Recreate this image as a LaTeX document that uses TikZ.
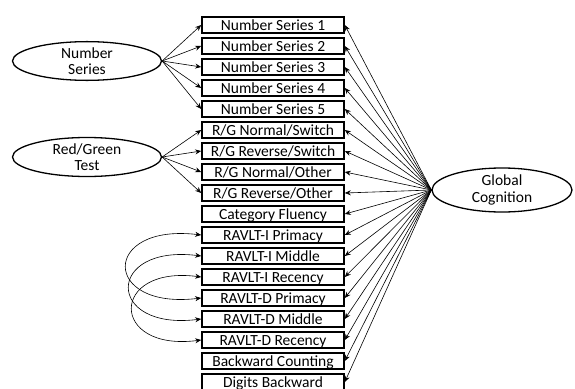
\documentclass[tikz,border=0pt]{standalone}
\usepackage{fontspec}
\setmainfont{Carlito}
\usetikzlibrary{arrows.meta,shapes.geometric}
\begin{document}
\begin{tikzpicture}[x=1pt,y=-1pt,
  box/.style={draw,line width=1.6pt,minimum width=142pt,minimum height=16pt,inner sep=0pt,
    text height=13pt,text depth=1.5pt,font=\fontsize{15.5}{16.5}\selectfont},
  lat/.style={draw,ellipse,line width=1.3pt,inner sep=0pt,align=center,
    font=\fontsize{15.5}{16.5}\selectfont},
  arr/.style={line width=0.6pt,-{Stealth[length=6pt,width=5pt,inset=2pt]}},
  darr/.style={line width=0.6pt,{Stealth[length=6pt,width=5pt,inset=2pt]}-{Stealth[length=6pt,width=5pt,inset=2pt]}}]
\useasboundingbox (0,0) rectangle (575,388);
\foreach \t [count=\i] in {Number Series 1,Number Series 2,Number Series 3,Number Series 4,Number Series 5,R/G Normal/Switch,R/G Reverse/Switch,R/G Normal/Other,R/G Reverse/Other,Category Fluency,RAVLT-I Primacy,RAVLT-I Middle,RAVLT-I Recency,RAVLT-D Primacy,RAVLT-D Middle,RAVLT-D Recency,Backward Counting,Digits Backward}
  \node[box] (b\i) at (273,{25+21*(\i-1)}) {\t};
\node[lat,minimum width=149pt,minimum height=38pt] (ns) at (87,61) {Number\\Series};
\node[lat,minimum width=149pt,minimum height=39pt] (rg) at (87,157) {Red/Green\\Test};
\node[lat,minimum width=140pt,minimum height=44pt] (gc) at (502,190) {Global\\Cognition};
\foreach \i in {1,...,5} \draw[arr] (ns.east) -- (b\i.west);
\foreach \i in {6,...,9} \draw[arr] (rg.east) -- (b\i.west);
\foreach \i in {1,...,18} \draw[arr] (gc.west) -- (b\i.east);
\draw[darr] (b11.west) .. controls +(-100,-12) and +(-100,12) .. (b14.west);
\draw[darr] (b12.west) .. controls +(-96,-12) and +(-96,12) .. (b15.west);
\draw[darr] (b13.west) .. controls +(-92,-12) and +(-92,12) .. (b16.west);
\end{tikzpicture}
\end{document}
